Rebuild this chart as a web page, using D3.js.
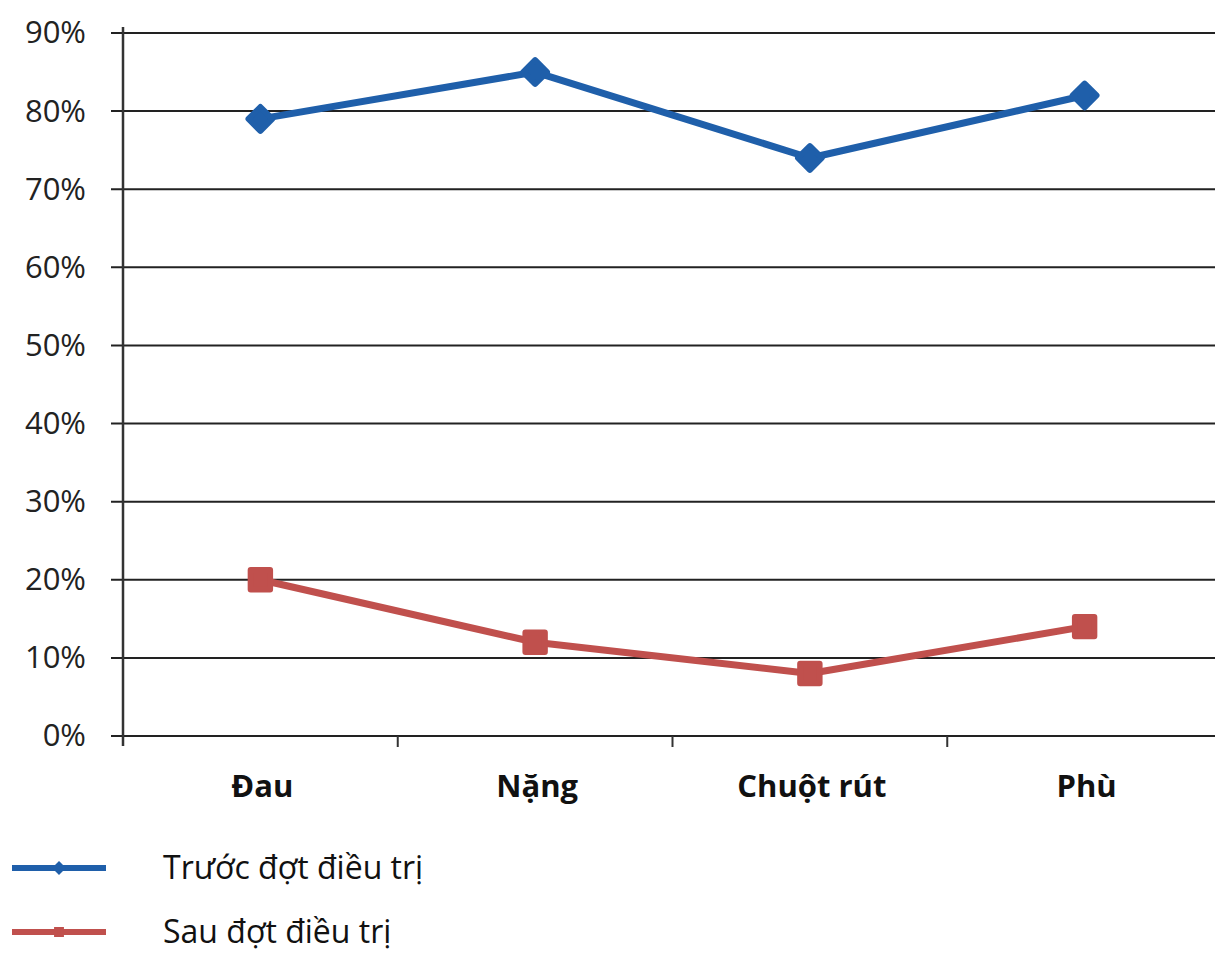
<!DOCTYPE html>
<html>
<head>
<meta charset="utf-8">
<script src="https://cdn.jsdelivr.net/npm/d3@7"></script>
<style>
  body { margin: 0; background: #fff; }
  svg { display: block; font-family: "Open Sans", "Noto Sans", sans-serif; }
</style>
</head>
<body>
<svg id="chart" width="1215" height="954"></svg>
<script>
// data
var categories = ['Đau', 'Nặng', 'Chuột rút', 'Phù'];
var truoc = [79, 85, 74, 82];   // Trước đợt điều trị
var sau = [20, 12, 8, 14];      // Sau đợt điều trị
var yTicks = [0, 10, 20, 30, 40, 50, 60, 70, 80, 90];
var seriesNames = ['Trước đợt điều trị', 'Sau đợt điều trị'];
var colors = ['#1f5faa', '#c0504d'];

var svg = d3.select('#chart');
var plotLeft = 123, plotRight = 1222, plotTop = 33, plotBottom = 736;

var x = d3.scaleBand().domain(categories).range([plotLeft, plotRight]);
var y = d3.scaleLinear().domain([0, 90]).range([plotBottom, plotTop]);

// gridlines
svg.append('g').selectAll('line').data(yTicks).enter().append('line')
    .attr('x1', plotLeft - 12).attr('x2', 1215)
    .attr('y1', function(d) { return y(d); })
    .attr('y2', function(d) { return y(d); })
    .attr('stroke', '#222').attr('stroke-width', 2);

// y axis
var yAxis = svg.append('g')
    .attr('transform', 'translate(' + plotLeft + ',0)')
    .call(d3.axisLeft(y).tickValues(yTicks).tickSize(0).tickPadding(37)
        .tickFormat(function(d) { return d + '%'; }));
yAxis.select('.domain').remove();
yAxis.selectAll('text').attr('font-size', 31).attr('fill', '#222')
    .attr('font-family', '"Open Sans", sans-serif');

svg.append('line')
    .attr('x1', plotLeft).attr('x2', plotLeft)
    .attr('y1', plotTop - 6).attr('y2', plotBottom + 10)
    .attr('stroke', '#333').attr('stroke-width', 2.5);

// x axis ticks at band boundaries
var bounds = categories.map(function(c) { return x(c); }).slice(1);
svg.append('g').selectAll('line').data(bounds).enter().append('line')
    .attr('x1', function(d) { return d; }).attr('x2', function(d) { return d; })
    .attr('y1', plotBottom).attr('y2', plotBottom + 11)
    .attr('stroke', '#333').attr('stroke-width', 2);

svg.append('g').selectAll('text').data(categories).enter().append('text')
    .attr('x', function(d) { return x(d) + x.bandwidth() / 2 + 2; })
    .attr('y', 797)
    .attr('text-anchor', 'middle')
    .attr('font-size', 31).attr('font-weight', 'bold').attr('fill', '#111')
    .text(function(d) { return d; });

var line = d3.line()
    .x(function(d, i) { return x(categories[i]) + x.bandwidth() / 2; })
    .y(function(d) { return y(d); });

// series
[truoc, sau].forEach(function(vals, s) {
    svg.append('path').datum(vals)
        .attr('d', line)
        .attr('fill', 'none')
        .attr('stroke', colors[s])
        .attr('stroke-width', 7)
        .attr('stroke-linejoin', 'round');
    svg.append('g').selectAll('path').data(vals).enter().append('path')
        .attr('transform', function(d, i) {
            return 'translate(' + (x(categories[i]) + x.bandwidth() / 2) + ',' + y(d) + ')';
        })
        .attr('d', d3.symbol().type(s === 0 ? d3.symbolDiamond2 : d3.symbolSquare2).size(s === 0 ? 360 : 480))
        .attr('fill', colors[s])
        .attr('stroke', colors[s]).attr('stroke-width', 6)
        .attr('stroke-linejoin', 'round');
});

// legend
var legend = svg.append('g').selectAll('g').data(seriesNames).enter().append('g')
    .attr('transform', function(d, i) { return 'translate(0,' + (868 + i * 64) + ')'; });
legend.append('line')
    .attr('x1', 12).attr('x2', 106).attr('y1', 0).attr('y2', 0)
    .attr('stroke', function(d, i) { return colors[i]; })
    .attr('stroke-width', 6);
legend.append('path')
    .attr('transform', 'translate(59,0)')
    .attr('d', function(d, i) {
        return d3.symbol().type(i === 0 ? d3.symbolDiamond2 : d3.symbolSquare2).size(60)();
    })
    .attr('fill', function(d, i) { return colors[i]; })
    .attr('stroke', function(d, i) { return colors[i]; }).attr('stroke-width', 3);
legend.append('text')
    .attr('x', 163).attr('y', 11)
    .attr('font-size', 32).attr('fill', '#111')
    .text(function(d) { return d; });
</script>
</body>
</html>
